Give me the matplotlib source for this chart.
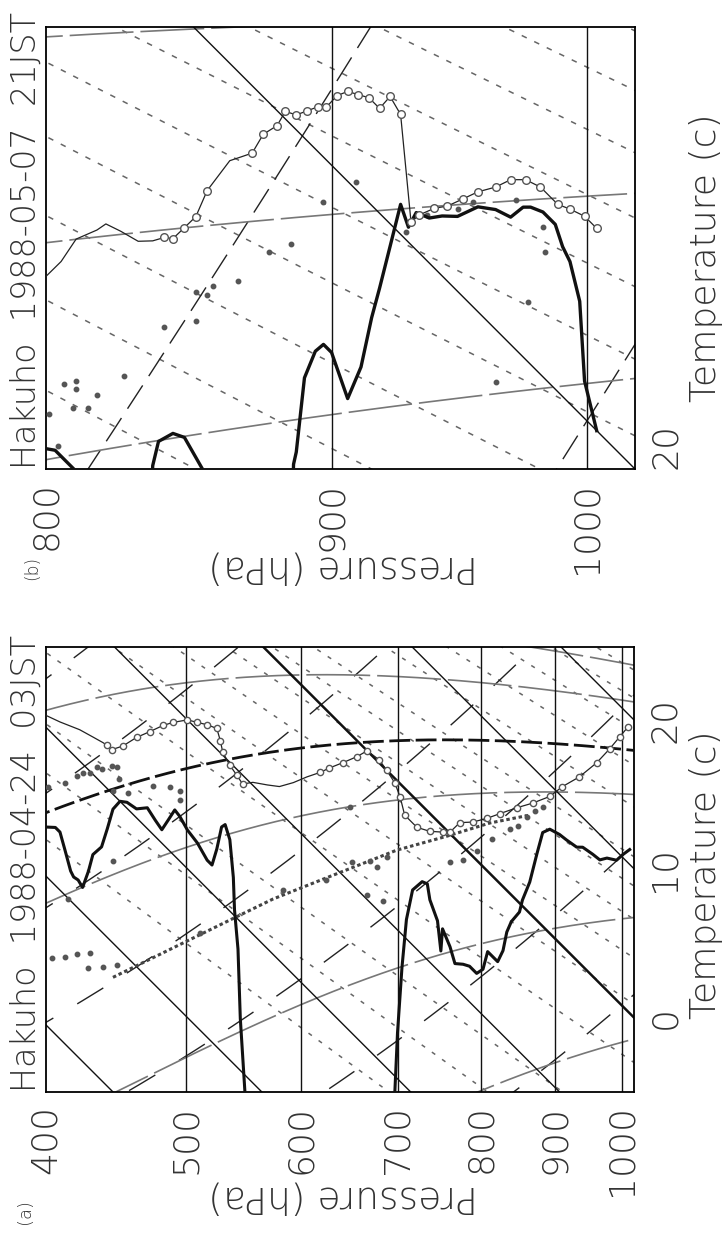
import numpy as np
import matplotlib
matplotlib.use("Agg")
import matplotlib.pyplot as plt
from matplotlib.ticker import FixedLocator, FixedFormatter, NullLocator

plt.rcParams['font.family'] = ['DejaVu Sans']
plt.rcParams['font.weight'] = 'ultralight'
plt.rcParams['lines.scale_dashes'] = False

# ---------------- panel (a): Hakuho 1988-04-24 03JST ----------------
p_temp_a = [400, 409, 422, 431, 438, 441, 444, 452, 462, 472, 482, 490, 501, 509, 517, 525, 528, 530,
            536, 542, 547, 556, 569, 580, 593, 606, 619, 628, 642, 656, 667, 680, 688, 697, 703, 708,
            722, 737, 752, 761, 773, 789, 807, 824, 846, 868, 892, 910, 935, 961, 981, 997, 1010]
t_temp_a = [-19.2, -18.7, -17.9, -17.5, -17.2, -17.1, -17.1, -16.1, -14.6, -13.3, -12.0, -11.1, -10.0,
            -9.5, -9.0, -8.6, -9.2, -9.8, -10.2, -10.4, -10.6, -9.8, -9.0, -8.3, -7.1, -5.8, -4.6, -3.7,
            -2.4, -1.1, 0.0, 0.2, 0.0, -0.3, -0.9, -1.8, -1.8, -1.2, -0.4, 0.1, 1.4, 2.3, 3.5, 4.7, 6.2,
            7.6, 9.2, 10.7, 12.5, 14.6, 16.4, 17.9, 19.1]
circ_a = list(range(5, 21)) + list(range(26, 53))

p_dew_a = [400, 406, 409, 412, 416, 418, 421, 424, 428, 431, 437, 441, 445, 450, 455, 462, 470, 476,
           481, 486, 491, 495, 501, 509, 517, 521, 525, 529, 532, 536, 539, 540, 543, 545, 549, 556,
           690, 697, 700, 705, 710, 717, 728, 734, 737, 746, 750, 752, 761, 767, 777, 785, 794, 802,
           808, 814, 821, 828, 833, 839, 850, 854, 864, 874, 882, 892, 906, 916, 931, 940, 955, 966,
           977, 992, 1002, 1013]
t_dew_a = [-26.7, -26.1, -26.1, -26.9, -28.0, -28.2, -28.1, -28.3, -26.8, -25.4, -24.3, -22.7, -21.0,
           -20.0, -19.6, -19.4, -18.6, -18.9, -19.1, -18.0, -16.9, -17.0, -17.4, -17.6, -18.1, -18.1,
           -16.7, -14.9, -14.5, -15.2, -17.5, -19.6, -22.0, -26.5, -31.1, -60, -60, -21.1, -16.9,
           -12.2, -8.7, -6.3, -5.1, -4.9, -5.8, -6.7, -8.5, -6.9, -7.6, -8.4, -7.9, -7.6, -7.6, -6.9,
           -5.4, -5.4, -5.4, -4.3, -2.8, -1.8, -0.6, 0.4, 2.1, 4.5, 6.3, 7.0, 7.3, 7.4, 7.6, 8.0,
           8.2, 8.3, 8.9, 9.4, 10.2, 11.0]

p_dots_a = [401, 412, 420, 424, 429, 434, 437, 444, 448, 449, 445, 456, 474, 487, 495, 495, 445, 414,
            583, 625, 404, 412, 420, 429, 428, 438, 448, 511, 649, 651, 670, 678, 688, 667, 684, 761,
            777, 794, 814, 837, 848, 860, 871, 882]
t_dots_a = [-23.9, -22.5, -21.2, -20.6, -20.1, -19.2, -19.1, -18.2, -17.9, -18.6, -19.8, -18.9, -16.8,
            -15.7, -15.3, -15.9, -24.5, -30.1, -15.0, -11.4, -35.1, -34.2, -33.2, -32.2, -33.3, -32.3,
            -31.2, -23.5, -4.9, -8.5, -7.2, -7.1, -5.8, -9.7, -9.0, -1.9, -0.9, 0.6, 2.5, 4.3, 5.1,
            6.3, 7.2, 8.0]

p_dotln_a = [445, 542, 574, 628, 699, 757, 811, 864]
t_dotln_a = [-32.3, -19.9, -16.3, -11.0, -4.7, -0.4, 3.4, 6.6]

parcel_tw_a = 17.2

# ---------------- panel (b): Hakuho 1988-05-07 21JST ----------------
p_temp_b = [800, 805, 810, 817, 820, 825, 831, 836, 840, 843, 847, 851, 855, 863, 867, 871, 875, 880,
            883, 887, 891, 895, 898, 902, 906, 910, 914, 918, 922, 926, 930, 933, 939, 944, 950, 956,
            963, 969, 975, 981, 988, 993, 999, 1004]
t_temp_b = [14.7, 15.1, 15.6, 16.0, 16.2, 16.3, 16.4, 16.6, 16.8, 16.9, 17.2, 17.5, 18.0, 18.7, 18.9,
            19.1, 19.5, 19.8, 20.1, 20.2, 20.4, 20.6, 20.7, 21.0, 21.2, 21.3, 21.4, 21.4, 21.7, 21.6,
            20.3, 20.5, 20.8, 21.0, 21.3, 21.6, 21.9, 22.2, 22.4, 22.5, 22.5, 22.6, 22.7, 22.7]
circ_b = list(range(8, 13)) + list(range(15, 44))

p_dew_b = [800, 803, 806, 810, 815, 832, 836, 838, 843, 847, 854, 858, 882, 886, 887, 890, 894, 897,
           900, 906, 911, 915, 918, 922, 926, 929, 932, 937, 942, 948, 956, 963, 969, 974, 977, 982,
           987, 990, 993, 996, 997, 999, 1002, 1004]
t_dew_b = [12.4, 12.5, 12.5, 12.5, 10.0, 10.0, 13.6, 14.0, 14.3, 14.4, 14.2, 10.0, 10.0, 15.5, 15.7,
           16.8, 17.3, 17.5, 17.5, 17.1, 17.7, 18.5, 19.0, 19.7, 20.4, 20.2, 20.5, 20.6, 20.8, 21.0,
           21.4, 21.6, 21.7, 22.0, 22.1, 22.2, 22.2, 22.0, 21.9, 21.6, 21.5, 20.5, 20.2, 20.0]

p_dots_b = [909, 897, 885, 877, 866, 857, 851, 855, 851, 840, 826, 806, 810, 810, 809, 814, 817, 801,
            804, 963, 971, 982, 983, 976, 948, 954, 936, 928]
t_dots_b = [20.1, 19.4, 18.4, 18.0, 17.2, 16.8, 16.5, 16.6, 16.1, 15.6, 14.4, 13.5, 13.7, 13.6, 13.3,
            13.5, 13.8, 12.9, 12.6, 19.3, 22.0, 22.0, 21.7, 20.8, 21.1, 21.4, 20.6, 20.1]

# background line sets of the diagram
isobars_a = [500, 600, 700, 800, 900, 1000]
isotherms_a = [-60, -50, -40, -30, -20, -10, 0, 10, 20, 30]
thetas_a = [-30, -20, -10, 0, 10, 20, 30, 40, 50, 60, 70, 80, 90]
moist_a = [-2.5, 5.8, 14.2, 20.5, 23.0]
mixing_a = [1, 1.5, 2, 3, 4, 5, 6, 7, 8, 10, 12, 14, 16, 18, 20, 22, 24]

isobars_b = [900, 1000]
isotherms_b = [0, 10, 20, 30]
thetas_b = [0, 10, 20, 30, 40, 50, 60]
moist_b = [20.5, 23.0, 25.4]
mixing_b = [10, 11, 12, 13, 14, 15, 16, 17, 18, 19, 20, 21, 22, 23, 24]


def sat_vp(t):
    return 6.112 * np.exp(17.67 * t / (t + 243.5))


def dewpoint_from_w(w, p):
    e = (w / 1000.0) * p / (0.622 + w / 1000.0)
    lg = np.log(e / 6.112)
    return 243.5 * lg / (17.67 - lg)


def dry_adiabat(theta_c, p):
    return (theta_c + 273.15) * (p / 1000.0) ** 0.2857 - 273.15


def moist_adiabat(tw, p):
    rd, cp, lv, eps = 287.04, 1005.7, 2.501e6, 0.622

    def f(T, lnp):
        es = sat_vp(T - 273.15)
        ws = eps * es / (np.exp(lnp) - es)
        return (rd * T + lv * ws) / (cp + lv ** 2 * ws * eps / (rd * T ** 2))

    def run(grid):
        T = tw + 273.15
        vals = [T]
        for i in range(len(grid) - 1):
            h = grid[i + 1] - grid[i]
            k1 = f(T, grid[i])
            k2 = f(T + h * k1 / 2, grid[i] + h / 2)
            k3 = f(T + h * k2 / 2, grid[i] + h / 2)
            k4 = f(T + h * k3, grid[i + 1])
            T = T + h * (k1 + 2 * k2 + 2 * k3 + k4) / 6
            vals.append(T)
        return np.array(vals)

    up = np.linspace(np.log(1000), np.log(300), 300)
    dn = np.linspace(np.log(1000), np.log(1060), 20)
    lnp = np.concatenate([up[::-1], dn[1:]])
    tt = np.concatenate([run(up)[::-1], run(dn)[1:]])
    return np.interp(np.log(p), lnp, tt) - 273.15


def draw_panel(ax, prange, yrange, k, isobars, isotherms, thetas, moist, mixing,
               mix_dash, dry_dash, xt, yt):
    pmin, pmax = prange

    def sk(t, p):
        return np.asarray(t, dtype=float) + k * np.log(pmax / np.asarray(p, dtype=float))

    pp = np.geomspace(pmin * 0.97, pmax * 1.02, 300)
    for w in mixing:
        ax.plot(pp, sk(dewpoint_from_w(w, pp), pp), color='#666666', lw=1.1, dashes=mix_dash, zorder=1)
    for th in thetas:
        ax.plot(pp, sk(dry_adiabat(th, pp), pp), color='#222222', lw=1.0, dashes=dry_dash, zorder=1)
    for tw in moist:
        ax.plot(pp, sk(moist_adiabat(tw, pp), pp), color='#777777', lw=1.2, dashes=(46, 5), zorder=1)
    for t in isotherms:
        ax.plot(pp, sk(np.full_like(pp, t), pp), color='#111111', lw=1.8 if t == 0 else 1.0, zorder=2)
    for p in isobars:
        ax.axvline(p, color='#111111', lw=1.0, zorder=2)

    ax.set_xscale('log')
    ax.set_xlim(pmin, pmax)
    ax.set_ylim(*yrange)
    ax.xaxis.set_major_locator(FixedLocator(xt))
    ax.xaxis.set_minor_locator(NullLocator())
    ax.xaxis.set_major_formatter(FixedFormatter([str(v) for v in xt]))
    ax.yaxis.tick_right()
    ax.yaxis.set_major_locator(FixedLocator(yt))
    ax.yaxis.set_major_formatter(FixedFormatter([str(v) for v in yt]))
    ax.tick_params(axis='both', length=0, labelsize=26, colors='#333333')
    ax.tick_params(axis='x', labelrotation=90, pad=9)
    ax.tick_params(axis='y', labelrotation=90, pad=10)
    for lbl in ax.get_yticklabels():
        lbl.set_va('center')
    for s in ax.spines.values():
        s.set_linewidth(1.3)
    return sk


fig = plt.figure(figsize=(7.28, 12.35), dpi=100)
W, H = 728.0, 1235.0
ax_b = fig.add_axes([46 / W, 1 - 469 / H, 589 / W, 442 / H])
ax_a = fig.add_axes([46 / W, 1 - 1092 / H, 588 / W, 445 / H])

# panel (a)
sk_a = draw_panel(ax_a, (400, 1020), (-5.0, 24.9), 42.2, isobars_a, isotherms_a, thetas_a, moist_a,
                  mixing_a, (3, 6), (22, 20), [400, 500, 600, 700, 800, 900, 1000], [0, 10, 20])
pp_a = np.geomspace(390, 1040, 300)
ax_a.plot(pp_a, sk_a(moist_adiabat(parcel_tw_a, pp_a), pp_a), color='#111111', lw=2.0,
          dashes=(15, 4), zorder=3)
ax_a.plot(p_dotln_a, sk_a(t_dotln_a, p_dotln_a), color='#444444', lw=2.2, dashes=(2.5, 2), zorder=4)
ax_a.plot(p_dots_a, sk_a(t_dots_a, p_dots_a), 'o', color='#555555', ms=3.2, zorder=4)
ax_a.plot(p_dew_a, sk_a(t_dew_a, p_dew_a), color='#111111', lw=2.2, zorder=5)
ax_a.plot(p_temp_a, sk_a(t_temp_a, p_temp_a), color='#222222', lw=0.9, marker='o', markevery=circ_a,
          ms=4.5, mfc='white', mec='#555555', mew=1.0, zorder=6)

# panel (b)
sk_b = draw_panel(ax_b, (800, 1020), (20.0, 25.9), 32.4, isobars_b, isotherms_b, thetas_b, moist_b,
                  mixing_b, (4, 6), (20, 8), [800, 900, 1000], [20])
for lbl in ax_b.get_yticklabels():
    lbl.set_va('bottom')
ax_b.plot(p_dots_b, sk_b(t_dots_b, p_dots_b), 'o', color='#555555', ms=3.2, zorder=4)
ax_b.plot(p_dew_b, sk_b(t_dew_b, p_dew_b), color='#111111', lw=2.4, zorder=5)
ax_b.plot(p_temp_b, sk_b(t_temp_b, p_temp_b), color='#222222', lw=0.9, marker='o', markevery=circ_b,
          ms=5.5, mfc='white', mec='#555555', mew=1.0, zorder=6)

# texts (the figure is laid out turned on its side); size fitted to length, capped
labels = [
    ('Hakuho  1988-04-24  03JST', 26, 1092, 90, 'center', 'bottom', 468, 24),
    ('Hakuho  1988-05-07  21JST', 26, 469, 90, 'center', 'bottom', 461, 24),
    ('Pressure (hPa)', 343, 1197, 180, 'center', 'center', 315, 27),
    ('Pressure (hPa)', 343, 567, 180, 'center', 'center', 315, 27),
    ('Temperature (c)', 706, 875, 90, 'center', 'center', 340, 26),
    ('Temperature (c)', 706, 258, 90, 'center', 'center', 334, 26),
    ('(a)', 25, 1212, 90, 'center', 'center', 25, 15),
    ('(b)', 32, 568, 90, 'center', 'center', 24, 15),
]
texts = []
for s, x, y, rot, ha, va, target, cap in labels:
    t = fig.text(x / W, 1 - y / H, s, rotation=rot, ha=ha, va=va, fontsize=20, color='#333333')
    texts.append((t, target, cap))

fig.canvas.draw()
renderer = fig.canvas.get_renderer()
for t, target, cap in texts:
    bb = t.get_window_extent(renderer)
    length = max(bb.width, bb.height)
    t.set_fontsize(min(cap, t.get_fontsize() * target / length))

fig.savefig('out.png', dpi=100)
